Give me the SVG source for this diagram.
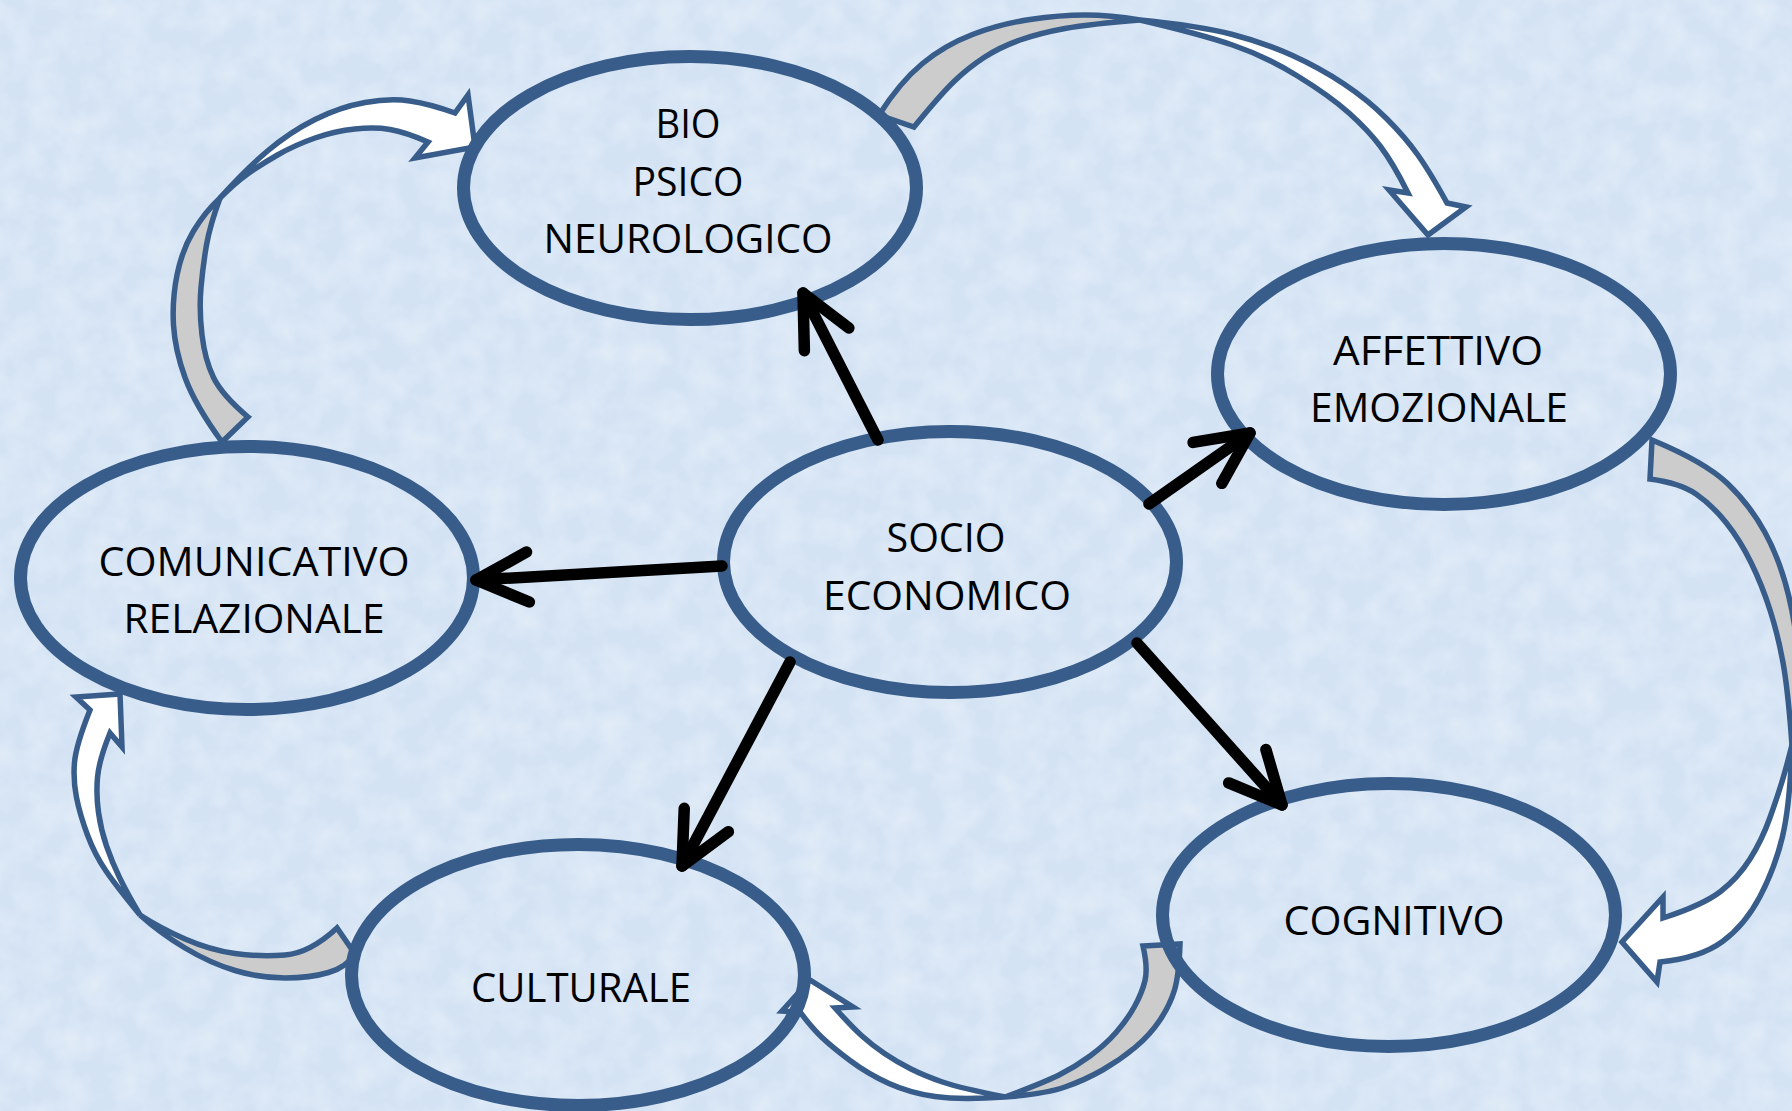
<svg xmlns="http://www.w3.org/2000/svg" width="1792" height="1111" viewBox="0 0 1792 1111">
<defs>
<style>
.node ellipse{fill:none;stroke:#385D8A;stroke-width:13}
.lbl{font-family:"Open Sans","Noto Sans",sans-serif;font-size:41px;fill:#000;text-anchor:middle}
.ca path{stroke:#385D8A;stroke-width:5.5;stroke-linejoin:miter;stroke-miterlimit:6}
.ca .g{fill:#cccccc}
.ca .w{fill:#ffffff}
.blk{stroke:#000;stroke-width:11.5;stroke-linecap:round;fill:none}
</style>
<marker id="ah" markerUnits="userSpaceOnUse" viewBox="-65 -35 75 70" refX="0" refY="0" markerWidth="75" markerHeight="70" orient="auto">
<path d="M-52,-25 L0,0 L-52,25" fill="none" stroke="#000" stroke-width="11.5" stroke-linecap="round" stroke-linejoin="round"/>
</marker>
<filter id="tex" x="0" y="0" width="100%" height="100%">
<feTurbulence type="fractalNoise" baseFrequency="0.035" numOctaves="3" seed="7" result="n"/>
<feColorMatrix in="n" type="matrix" values="0 0 0 0 1  0 0 0 0 1  0 0 0 0 1  0 0 0 -1.6 1.05"/>
</filter>
</defs>
<rect width="1792" height="1111" fill="#d4e3f4"/>
<rect width="1792" height="1111" filter="url(#tex)" opacity="0.35"/>

<g id="curved-connectors" class="ca">
<g id="ca-comunicativo-bio">
<path class="g" d="M222,442 Q195,405 185,377.5 Q175,350 173.5,325 Q172,300 177,275 Q182,250 193.5,231 Q205,212 220,198 Q210,225 206.5,245 Q203,265 201,287.5 Q199,310 202,335 Q205,360 213.5,377.5 Q222,395 248,417 Z"/>
<path class="w" d="M220,198 Q245,170 267.5,151 Q290,132 315,119.5 Q340,107 365,102.5 Q390,98 410,101 Q430,104 455,113 L468,95 L475,147 L415,158 L428,142 Q405,132 390,129.5 Q375,127 355,129 Q335,131 315,138 Q295,145 277.5,155 Q260,165 247.5,174 Q235,183 220,198 Z"/>
</g>
<g id="ca-bio-affettivo">
<path class="g" d="M879,115 Q900,82 922.5,63.5 Q945,45 972.5,34.5 Q1000,24 1030,19.5 Q1060,15 1085,15 Q1110,15 1140,20 Q1090,24 1065,28.5 Q1040,33 1020,40 Q1000,47 984,57.5 Q968,68 954,81.5 Q940,95 914,127 Z"/>
<path class="w" d="M1140,20 Q1200,26 1232.5,34.5 Q1265,43 1292.5,55.5 Q1320,68 1344,84 Q1368,100 1386.5,118.5 Q1405,137 1417.5,154.5 Q1430,172 1447,203 L1466,207 L1428,235 L1389,190 L1408,193 Q1393,163 1380.5,146.5 Q1368,130 1349,113 Q1330,96 1297.5,76 Q1265,56 1232.5,45 Q1200,34 1140,20 Z"/>
</g>
<g id="ca-affettivo-cognitivo">
<path class="g" d="M1652,440 Q1705,462 1727.5,483.5 Q1750,505 1765,532.5 Q1780,560 1788.5,595 Q1797,630 1798.5,665 Q1800,700 1792,745 Q1788,690 1783,662.5 Q1778,635 1770,610 Q1762,585 1751,562.5 Q1740,540 1726,522.5 Q1712,505 1696,494 Q1680,483 1650,479 Z"/>
<path class="w" d="M1792,745 Q1790,805 1782.5,836.5 Q1775,868 1760,896.5 Q1745,925 1722.5,941.5 Q1700,958 1660,962 L1657,982 L1622,942 L1663,897 L1663,918 Q1703,905 1720.5,891.5 Q1738,878 1750,859 Q1762,840 1770,817.5 Q1778,795 1782.5,780 Q1787,765 1792,745 Z"/>
</g>
<g id="ca-cognitivo-culturale">
<path class="g" d="M1143,946 L1180,944 Q1179,975 1174.5,990 Q1170,1005 1160,1020 Q1150,1035 1135,1047.5 Q1120,1060 1102.5,1070 Q1085,1080 1065,1087 Q1045,1094 1005,1097 Q1043,1083 1059,1075 Q1075,1067 1090,1056 Q1105,1045 1116,1032.5 Q1127,1020 1134.5,1006.5 Q1142,993 1145,980.5 Q1148,968 1143,946 Z"/>
<path class="w" d="M1005,1097 Q960,1100 935,1096.5 Q910,1093 889,1083.5 Q868,1074 850,1060.5 Q832,1047 822,1037.5 Q812,1028 800,1012 L782,1011 L810,980 L853,1007 L835,1008 Q852,1027 862,1036 Q872,1045 884.5,1053.5 Q897,1062 911,1069 Q925,1076 942.5,1082 Q960,1088 1005,1097 Z"/>
</g>
<g id="ca-culturale-comunicativo">
<path class="g" d="M337,928 Q310,953 285,955 Q260,957 235,953.5 Q210,950 185,939 Q160,928 140,915 Q160,933 185,948 Q210,963 235,970.5 Q260,978 285,978 Q310,978 328.5,972.5 Q347,967 355,954 Z"/>
<path class="w" d="M140,915 Q117,887 106,871 Q95,855 87.5,835 Q80,815 76.5,797.5 Q73,780 74.5,762.5 Q76,745 90,710 L76,697 L120,694 L122,747 L110,733 Q99,760 97.5,777.5 Q96,795 98.5,812.5 Q101,830 106.5,846 Q112,862 119.5,877.5 Q127,893 140,915 Z"/>
</g>
</g>

<g id="node-bio" class="node">
<ellipse cx="690" cy="188" rx="226.5" ry="131.5"/>
<text class="lbl" x="688" y="138" textLength="65" lengthAdjust="spacingAndGlyphs">BIO</text>
<text class="lbl" x="688" y="196" textLength="111" lengthAdjust="spacingAndGlyphs">PSICO</text>
<text class="lbl" x="688" y="253" textLength="289" lengthAdjust="spacingAndGlyphs">NEUROLOGICO</text>
</g>
<g id="node-socio" class="node">
<ellipse cx="950" cy="562" rx="226.5" ry="130.5"/>
<text class="lbl" x="946" y="552" textLength="119" lengthAdjust="spacingAndGlyphs">SOCIO</text>
<text class="lbl" x="947" y="610" textLength="248" lengthAdjust="spacingAndGlyphs">ECONOMICO</text>
</g>
<g id="node-affettivo" class="node">
<ellipse cx="1444" cy="374" rx="226.5" ry="130.5"/>
<text class="lbl" x="1438" y="365" textLength="210" lengthAdjust="spacingAndGlyphs">AFFETTIVO</text>
<text class="lbl" x="1439" y="422" textLength="258" lengthAdjust="spacingAndGlyphs">EMOZIONALE</text>
</g>
<g id="node-comunicativo" class="node">
<ellipse cx="247" cy="578" rx="226.5" ry="131.5"/>
<text class="lbl" x="254" y="576" textLength="311" lengthAdjust="spacingAndGlyphs">COMUNICATIVO</text>
<text class="lbl" x="254" y="633" textLength="261" lengthAdjust="spacingAndGlyphs">RELAZIONALE</text>
</g>
<g id="node-culturale" class="node">
<ellipse cx="578" cy="975" rx="226.5" ry="130.5"/>
<text class="lbl" x="581" y="1002" textLength="220" lengthAdjust="spacingAndGlyphs">CULTURALE</text>
</g>
<g id="node-cognitivo" class="node">
<ellipse cx="1389" cy="915" rx="226.5" ry="131.5"/>
<text class="lbl" x="1394" y="935" textLength="221" lengthAdjust="spacingAndGlyphs">COGNITIVO</text>
</g>

<g id="connectors">
<path class="blk" d="M878,440 L803,293" marker-end="url(#ah)"/>
<path class="blk" d="M1149,504 L1250,433" marker-end="url(#ah)"/>
<path class="blk" d="M722,566 L476,580" marker-end="url(#ah)"/>
<path class="blk" d="M790,662 L682,866" marker-end="url(#ah)"/>
<path class="blk" d="M1137,643 L1282,805" marker-end="url(#ah)"/>
</g>
</svg>
